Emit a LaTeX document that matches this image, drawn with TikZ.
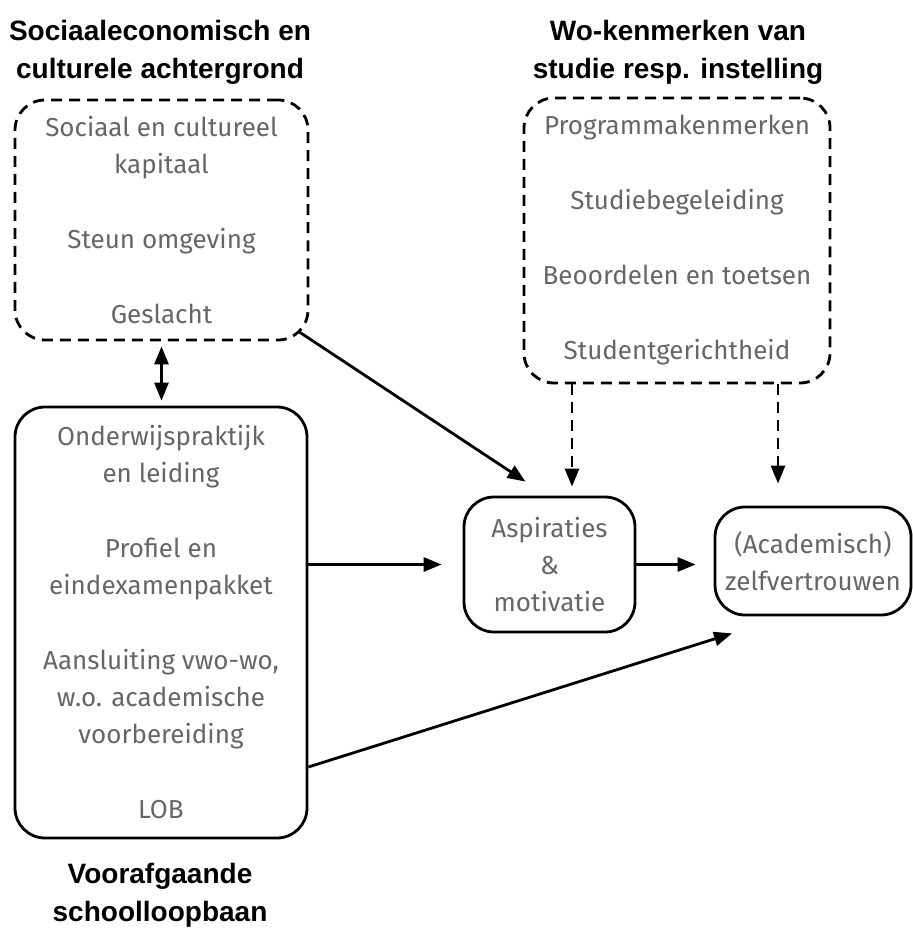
\documentclass[tikz,border=0pt]{standalone}
\usepackage{fontspec}
\setmainfont{Fira Sans}
\newfontfamily\headfont{Liberation Sans}
\usepackage{xcolor}
\usetikzlibrary{arrows.meta}
\definecolor{itemgray}{HTML}{666666}

\tikzset{
    itembox/.style = {draw, line width = 1.4pt, rounded corners = 15pt, align = center, inner sep = 0pt, text = itemgray, font = \fontsize{13pt}{18.5pt}\selectfont},
    dashbox/.style = {itembox, dash pattern = on 5.5pt off 3.5pt},
    heading/.style = {align = center, font = \headfont\bfseries\fontsize{14pt}{19pt}\selectfont},
    link/.style = {->, > = {Triangle[length = 9pt, width = 7pt]}, line width = 1.4pt},
    dashlink/.style = {link, dash pattern = on 5.5pt off 3.5pt}
}

\begin{document}
\begin{tikzpicture}
        \useasboundingbox (0pt, 0pt) rectangle (456pt, -464.5pt);

        % Headings
        \node [heading] (h1) at (80pt, -26pt) {Sociaaleconomisch en\\culturele achtergrond};
        \node [heading] (h2) at (339pt, -26pt) {Wo-kenmerken van\\studie resp. instelling};
        \node [heading] (h3) at (80pt, -447.5pt) {Voorafgaande\\schoolloopbaan};

        % Boxes
        \node [dashbox, minimum width = 146.5pt, minimum height = 120pt] (achter) at (80.75pt, -110pt) {Sociaal en cultureel\\kapitaal\\[19pt]Steun omgeving\\[19pt]Geslacht};
        \node [dashbox, minimum width = 153pt, minimum height = 142.5pt] (wo) at (338.5pt, -120.25pt) {Programmakenmerken\\[19pt]Studiebegeleiding\\[19pt]Beoordelen en toetsen\\[19pt]Studentgerichtheid};
        \node [itembox, minimum width = 146pt, minimum height = 215.5pt] (school) at (80.5pt, -311.25pt) {Onderwijspraktijk\\en leiding\\[19pt]Profiel en\\eindexamenpakket\\[19pt]Aansluiting vwo-wo,\\w.o. academische\\voorbereiding\\[19pt]LOB};
        \node [itembox, minimum width = 85.5pt, minimum height = 67.5pt] (asp) at (274.75pt, -282.25pt) {Aspiraties\\\&\\motivatie};
        \node [itembox, minimum width = 98pt, minimum height = 54pt] (acad) at (406.5pt, -280.5pt) {(Academisch)\\zelfvertrouwen};

        % Draw the links
        \draw [link, <->, shorten <= 2.5pt, shorten >= 2.5pt] (achter.south) -- (achter.south |- school.north);
        \draw [link] ([xshift = -5.5pt, yshift = 5pt]achter.south east) -- ([xshift = -12pt, yshift = 7pt]asp.north);
        \draw [dashlink] ([xshift = 11.25pt]asp.north |- wo.south) -- ([xshift = 11.25pt, yshift = 4.5pt]asp.north);
        \draw [dashlink] ([xshift = -17.5pt]acad.north |- wo.south) -- ([xshift = -17.5pt, yshift = 11pt]acad.north);
        \draw [link] (school.east |- asp.west) -- ([xshift = -10.5pt]asp.west);
        \draw [link] (asp.east) -- ([xshift = -9pt]acad.west |- asp.east);
        \draw [link] ([yshift = -72.25pt]school.east) -- ([xshift = -40.5pt, yshift = -8.5pt]acad.south);

    \end{tikzpicture}
\end{document}
